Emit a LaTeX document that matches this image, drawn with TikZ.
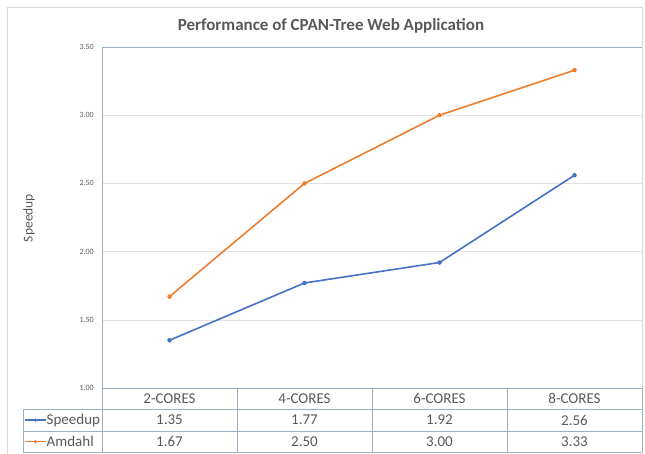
\documentclass[tikz,border=0pt]{standalone}
\usepackage{fontspec}
\setmainfont{Carlito}
\begin{document}
\begin{tikzpicture}[x=1pt,y=-1pt,
  txt/.style={text=textgrey, inner sep=0pt},
  ticklbl/.style={txt, font=\fontsize{8}{9}\selectfont, anchor=east},
  cell/.style={txt, font=\fontsize{15}{17}\selectfont},
  grid/.style={draw=gridgrey, line width=0.6pt},
  tbl/.style={draw=tblblue, line width=0.7pt},
  series/.style={line width=1.6pt, line cap=round, line join=round},
  pt/.style={circle, fill, inner sep=0pt, minimum size=4.5pt}]
\definecolor{textgrey}{HTML}{595959}
\definecolor{gridgrey}{HTML}{E3E3E3}
\definecolor{tblblue}{HTML}{9AAEC4}
\definecolor{framegrey}{HTML}{D9D9D9}
\definecolor{sblue}{HTML}{4472C4}
\definecolor{sorange}{HTML}{ED7D31}
\useasboundingbox (0,0) rectangle (645,454);
% chart frame
\draw[framegrey, line width=0.8pt] (7,454) -- (7,7) -- (642,7) -- (642,454);
% title
\node[txt, font=\fontsize{17}{20}\selectfont\bfseries] (title) at (331,26) {Performance of CPAN-Tree Web Application};
% axis title
\node[txt, font=\fontsize{13.5}{16}\selectfont, rotate=90] (ylabel) at (29,218) {Speedup};
% gridlines and tick labels (y = 388 - 136.4*(v-1))
\foreach \v in {1.5,2.0,2.5,3.0}{
  \draw[grid] (102,{388-136.4*(\v-1)}) -- (642,{388-136.4*(\v-1)});
}
\foreach \v/\lab in {1.0/1.00,1.5/1.50,2.0/2.00,2.5/2.50,3.0/3.00,3.5/3.50}{
  \node[ticklbl] at (94,{388-136.4*(\v-1)}) {\lab};
}
% plot area top edge and left axis
\draw[tbl] (102,47) -- (642,47);
\draw[tbl] (102,47) -- (102,452);
% data table
\draw[tbl] (102,388) -- (642,388);
\draw[tbl] (23,409) -- (642,409);
\draw[tbl] (23,431) -- (642,431);
\draw[tbl] (23,452) -- (642,452);
\draw[tbl] (23,409) -- (23,452);
\foreach \x in {237,372,507}{ \draw[tbl] (\x,388) -- (\x,452); }
\draw[tbl] (642,388) -- (642,452);
% header and values
\foreach \i/\c/\s/\a in {0/2-CORES/1.35/1.67,1/4-CORES/1.77/2.50,2/6-CORES/1.92/3.00,3/8-CORES/2.56/3.33}{
  \node[cell] (h\i) at ({169.5+135*\i},398.5) {\c};
  \node[cell] (s\i) at ({169.5+135*\i},420) {\s};
  \node[cell] (a\i) at ({169.5+135*\i},441.5) {\a};
}
% legend keys in the table
\coordinate (ls1) at (25,420); \coordinate (ls2) at (46,420);
\coordinate (la1) at (25,441.5); \coordinate (la2) at (46,441.5);
\draw[sblue, line width=1.6pt] (ls1) -- (ls2);
\node[pt, fill=sblue, minimum size=3.5pt] at (35.5,420) {};
\draw[sorange, line width=1.6pt] (la1) -- (la2);
\node[pt, fill=sorange, minimum size=3.5pt] at (35.5,441.5) {};
\node[cell, anchor=west] (lsp) at (46.5,420) {Speedup};
\node[cell, anchor=west] (lam) at (46.5,441.5) {Amdahl};
% data points
\foreach \i/\v in {0/1.35,1/1.77,2/1.92,3/2.56}{
  \coordinate (S\i) at ({169.5+135*\i},{388-136.4*(\v-1)});
}
\foreach \i/\v in {0/1.67,1/2.50,2/3.00,3/3.33}{
  \coordinate (A\i) at ({169.5+135*\i},{388-136.4*(\v-1)});
}
\draw[series, sblue] (S0) -- (S1) -- (S2) -- (S3);
\draw[series, sorange] (A0) -- (A1) -- (A2) -- (A3);
\foreach \i in {0,...,3}{
  \node[pt, fill=sblue] at (S\i) {};
  \node[pt, fill=sorange] at (A\i) {};
}
\end{tikzpicture}
\end{document}
